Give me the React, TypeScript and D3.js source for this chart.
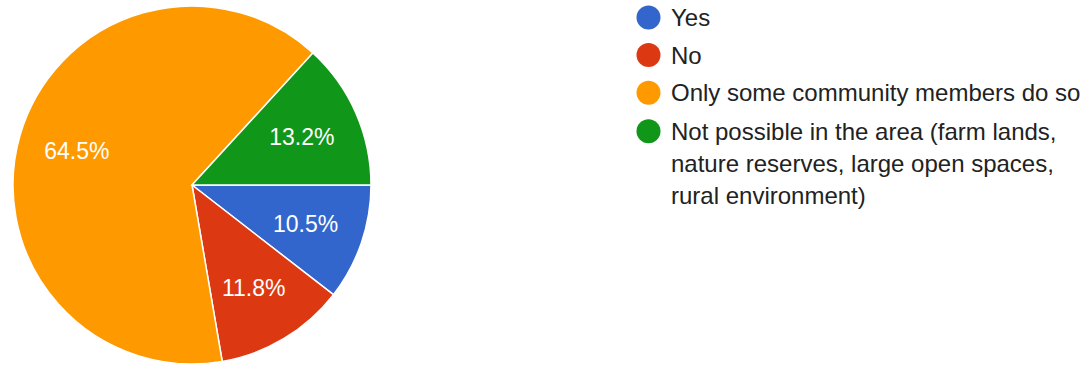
import React from "react";
import * as d3 from "d3";

const categories = ["Yes", "No", "Only some community members do so", "Not possible in the area (farm lands, nature reserves, large open spaces, rural environment)"];
const values = [10.5, 11.8, 64.5, 13.2];
const colors = ["#3366cc", "#dc3912", "#ff9900", "#109618"];
const legendLines = [["Yes"], ["No"], ["Only some community members do so"], ["Not possible in the area (farm lands,", "nature reserves, large open spaces,", "rural environment)"]];

const W = 1086, H = 366;
const cx = 192, cy = 185, R = 179, labelR = 120;
const FONT = "Arial, 'Liberation Sans', sans-serif";
const FS = 23;
const LFS = 24;

export default function App() {
  const pie = d3.pie<number>().sort(null).startAngle(Math.PI / 2).endAngle(Math.PI / 2 + 2 * Math.PI);
  const arcs = pie(values);
  const arc = d3.arc<d3.PieArcDatum<number>>().innerRadius(0).outerRadius(R);
  const labelArc = d3.arc<d3.PieArcDatum<number>>().innerRadius(labelR).outerRadius(labelR);
  const legendY = [17.5, 55, 92.7, 131.2];
  const lineH = 32;
  return (
    <svg width={W} height={H} style={{ position: "absolute", left: 0, top: 0, background: "#fff" }} fontFamily={FONT}>
      <g transform={`translate(${cx},${cy})`}>
        {arcs.map((a, i) => (
          <path key={i} d={arc(a) || ""} fill={colors[i]} stroke="#fff" strokeWidth={1.5} />
        ))}
        {arcs.map((a, i) => {
          const [x, y] = labelArc.centroid(a);
          return (
            <text key={i} x={x} y={y} dy="0.36em" textAnchor="middle" fill="#fff" fontSize={FS}>
              {values[i].toFixed(1)}%
            </text>
          );
        })}
      </g>
      {categories.map((c, i) => (
        <g key={i}>
          <circle cx={648.5} cy={legendY[i]} r={12} fill={colors[i]} />
          <text x={671} y={legendY[i] + 8.5} fontSize={LFS} fill="#222">
            {legendLines[i].map((l, j) => (
              <tspan key={j} x={671} dy={j === 0 ? 0 : lineH}>{l}</tspan>
            ))}
          </text>
        </g>
      ))}
    </svg>
  );
}
